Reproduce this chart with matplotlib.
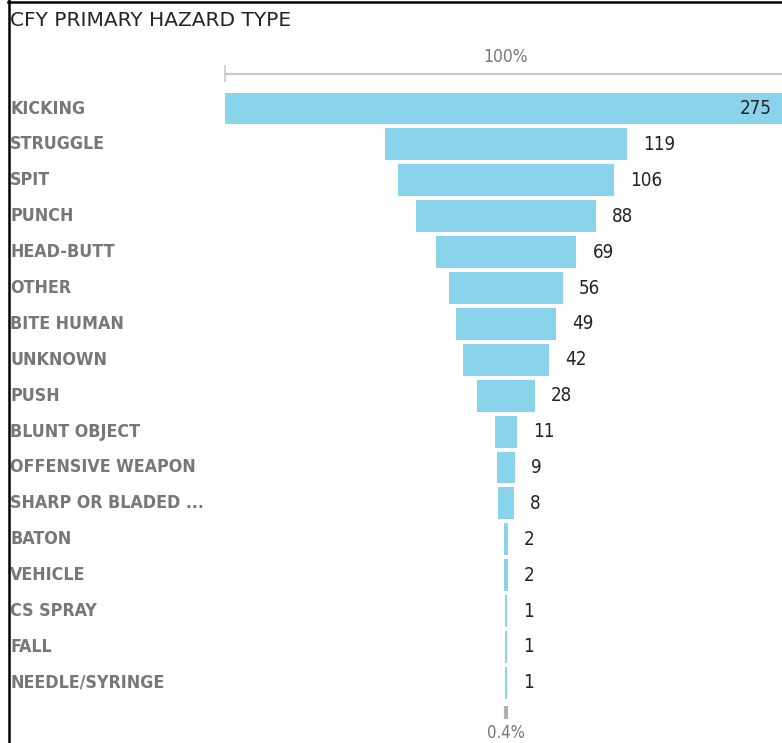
import matplotlib
matplotlib.use("Agg")
import matplotlib.pyplot as plt
from matplotlib.transforms import blended_transform_factory
from matplotlib.lines import Line2D

categories = ["KICKING", "STRUGGLE", "SPIT", "PUNCH", "HEAD-BUTT", "OTHER", "BITE HUMAN",
              "UNKNOWN", "PUSH", "BLUNT OBJECT", "OFFENSIVE WEAPON", "SHARP OR BLADED ...",
              "BATON", "VEHICLE", "CS SPRAY", "FALL", "NEEDLE/SYRINGE"]
values = [275, 119, 106, 88, 69, 56, 49, 42, 28, 11, 9, 8, 2, 2, 1, 1, 1]
title = "CFY PRIMARY HAZARD TYPE"
top_label = "100%"
bottom_label = "0.4%"

W, H = 782, 743
fig = plt.figure(figsize=(W / 100, H / 100), dpi=100)
ax = fig.add_axes([0, 0, 1, 1])
ax.set_axis_off()

px_per_unit = 2.042
center_px = 506
ax.set_xlim(-center_px / px_per_unit, (W - center_px) / px_per_unit)
row0_px, step_px = 108.5, 35.9
ax.set_ylim((H - row0_px) / step_px, -row0_px / step_px)

bar_color = "#8AD4EB"
label_color = "#777777"
value_color = "#252423"
fam = "DejaVu Sans"
stretch = "condensed"

ys = list(range(len(categories)))
lefts = [-v / 2 for v in values]
ax.barh(ys, values, left=lefts, height=0.89, color=bar_color, edgecolor="none")

tr_fig_data = blended_transform_factory(fig.transFigure, ax.transData)
for y, cat, v in zip(ys, categories, values):
    ax.text(10 / W, y, cat, transform=tr_fig_data, ha="left", va="center",
            fontsize=12.8, color=label_color, family=fam, fontstretch=stretch,
            fontweight="bold")
    if v / 2 > (W - center_px) / px_per_unit - 10:
        ax.text(772 / W, y, str(v), transform=tr_fig_data, ha="right", va="center",
                fontsize=13.5, color=value_color, family=fam, fontstretch=stretch)
    else:
        ax.annotate(str(v), xy=(v / 2, y), xytext=(16, 0), textcoords="offset pixels",
                    ha="left", va="center", fontsize=13.5, color=value_color,
                    family=fam, fontstretch=stretch)

# top scale line (100%)
x_left = -values[0] / 2
y_axis_top = (74 - row0_px) / step_px
ax.plot([x_left, values[0] / 2], [y_axis_top, y_axis_top], color="#c8c8c8", lw=1.6,
        solid_capstyle="butt", clip_on=True)
ax.plot([x_left, x_left], [(66 - row0_px) / step_px, (81 - row0_px) / step_px],
        color="#c8c8c8", lw=1.2)
ax.text(0, (57 - row0_px) / step_px, top_label, ha="center", va="center",
        fontsize=12.5, color=label_color, family=fam, fontstretch=stretch)

# bottom scale tick (0.4%)
ax.plot([0, 0], [(706 - row0_px) / step_px, (719 - row0_px) / step_px],
        color="#b0b0b0", lw=3, solid_capstyle="butt")
ax.text(0, (724 - row0_px) / step_px, bottom_label, ha="center", va="top",
        fontsize=12, color=label_color, family=fam, fontstretch=stretch)

# title
fig.text(10 / W, 1 - 20 / H, title, ha="left", va="center", fontsize=14.5,
         color="#252423", family=fam)

# frame lines
fig.add_artist(Line2D([8.5 / W, 8.5 / W], [0, 1], color="black", lw=1.8,
                      transform=fig.transFigure))
fig.add_artist(Line2D([8 / W, 1], [1 - 1.5 / H, 1 - 1.5 / H], color="black", lw=1.8,
                      transform=fig.transFigure))

fig.savefig("out.png", dpi=100)
